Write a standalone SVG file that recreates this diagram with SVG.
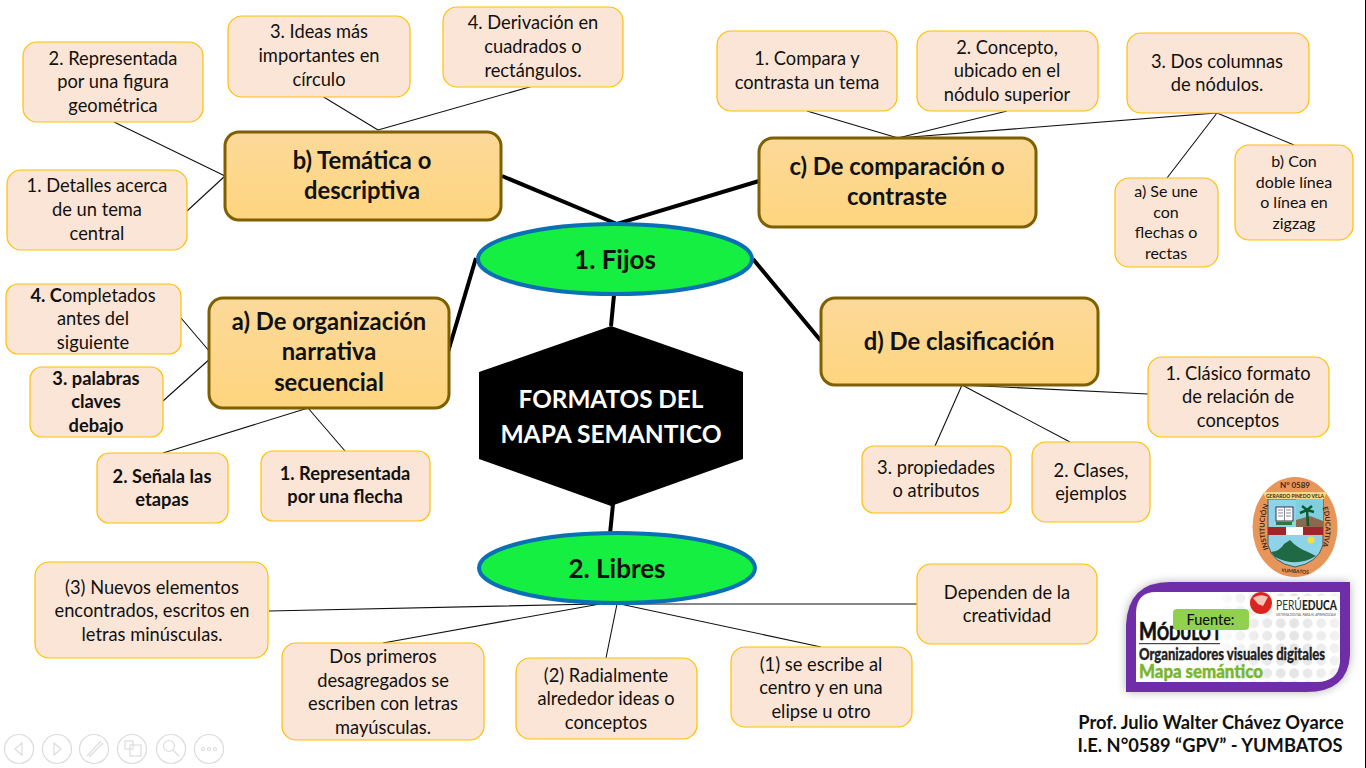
<svg xmlns="http://www.w3.org/2000/svg" width="1366" height="768" viewBox="0 0 1366 768">
<style>
text{font-family:"Lato","Liberation Sans",sans-serif;text-anchor:middle;fill:#111}
.l{fill:#fbe5d6;stroke:#ffc000;stroke-width:1.2}
.t{font-size:18.300px}
.s{font-size:16px}
.b{font-weight:700}
.m{fill:url(#g);stroke:#7f6000;stroke-width:3}
.mt{font-size:23.800px;font-weight:700}
.et{font-size:26px;font-weight:700}
.e{fill:#15ef41;stroke:#0a6fb5;stroke-width:4}
.th{stroke:#000;stroke-width:4;fill:none}
.tn{stroke:#111;stroke-width:1.1;fill:none}
.nav{fill:none;stroke:#dcdcdc;stroke-width:1.2}
.st{text-anchor:start}
.lg{font-size:7px;font-weight:700;fill:#3a2a1a}
</style>
<defs>
<linearGradient id="g" x1="0" y1="0" x2="0" y2="1"><stop offset="0" stop-color="#fbd999"/><stop offset="1" stop-color="#ffd57f"/></linearGradient>
<filter id="sh" x="-10%" y="-15%" width="120%" height="135%"><feGaussianBlur stdDeviation="5"/></filter>
<pattern id="dots" x="1139" y="592" width="13.500" height="12.500" patternUnits="userSpaceOnUse"><circle cx="6.700" cy="6.200" r="5" fill="#e4e4e4"/></pattern>
<linearGradient id="fade" x1="0" y1="0" x2="1" y2="0"><stop offset="0" stop-color="#000"/><stop offset=".25" stop-color="#999"/><stop offset=".6" stop-color="#fff"/><stop offset="1" stop-color="#777"/></linearGradient>
<mask id="dm"><rect x="1215" y="592" width="125" height="90" fill="url(#fade)"/></mask>
<clipPath id="inner"><path d="M1136 682V612Q1137 592 1156 592H1340V662Q1338 682 1316 682Z"/></clipPath>
<path id="arcL" d="M1282 567A30 44 0 0 1 1282 487"/>
<path id="arcR" d="M1308 487A30 44 0 0 1 1308 567"/>
</defs>
<rect width="1366" height="768" fill="#fff"/>
<rect id="edge" x="1365" y="0" width="1" height="768" fill="#000"/>
<g id="connectors">
<path class="th" d="M502 176L617 224L759 181M476 258L448 352M753 259L821 341M614 295L611 326M613 504L610 534"/>
<path class="tn" d="M378 130L322 96M378 130L533 86M225 176L114 122M225 176L187 211M898 138L807 111M898 138L1007 111M898 138L1217 113L1167 178M1217 113L1294 145M181 318L210 352M163 401L212 357M308 408L163 453M308 408L345 451M962 385L1148 394M962 385L935 446M962 385L1070 442M597 604L269 611M618 604L917 604M600 604L383 643M617 604L606 658M620 604L821 647"/>
</g>
<g id="n-center"><polygon points="611,326 743,372 743,459 611,506 479,459 479,372" fill="#000"/><text x="611" y="408" font-size="24.300" font-weight="700" style="fill:#fff">FORMATOS DEL</text><text x="611" y="443" font-size="24.600" font-weight="700" style="fill:#fff">MAPA SEMANTICO</text></g>
<g id="n-fijos"><ellipse class="e" cx="615" cy="259" rx="137" ry="35"/><text x="615" y="269" class="et">1. Fijos</text></g>
<g id="n-libres"><ellipse class="e" cx="617" cy="568" rx="138" ry="35"/><text x="617" y="578" class="et">2. Libres</text></g>
<g id="n-b"><rect class="m" x="225" y="132" width="276" height="88" rx="14"/><text x="362" y="169" class="mt">b) Temática o</text><text x="362" y="199" class="mt">descriptiva</text></g>
<g id="n-c"><rect class="m" x="759" y="138" width="277" height="89" rx="14"/><text x="897" y="175" class="mt">c) De comparación o</text><text x="897" y="205" class="mt">contraste</text></g>
<g id="n-a"><rect class="m" x="209" y="298" width="240" height="110" rx="14"/><text x="329" y="330" class="mt">a) De organización</text><text x="329" y="360" class="mt">narrativa</text><text x="329" y="391" class="mt">secuencial</text></g>
<g id="n-d"><rect class="m" x="821" y="298" width="277" height="87" rx="14"/><text x="959" y="350" class="mt">d) De clasificación</text></g>
<g id="b2"><rect class="l" x="23" y="42" width="180" height="80" rx="14"/><text x="113" y="65" class="t">2. Representada</text><text x="113" y="88" class="t">por una figura</text><text x="113" y="112" class="t">geométrica</text></g>
<g id="b3"><rect class="l" x="228" y="16" width="182" height="81" rx="14"/><text x="319" y="38" class="t">3. Ideas más</text><text x="319" y="62" class="t">importantes en</text><text x="319" y="86" class="t">círculo</text></g>
<g id="b4"><rect class="l" x="443" y="7" width="180" height="80" rx="14"/><text x="533" y="29" class="t">4. Derivación en</text><text x="533" y="53" class="t">cuadrados o</text><text x="533" y="77" class="t">rectángulos.</text></g>
<g id="b1"><rect class="l" x="7" y="170" width="180" height="80" rx="14"/><text x="97" y="192" class="t">1. Detalles acerca</text><text x="97" y="216" class="t">de un tema</text><text x="97" y="240" class="t">central</text></g>
<g id="c1"><rect class="l" x="717" y="31" width="180" height="80" rx="14"/><text x="807" y="65" class="t">1. Compara y</text><text x="807" y="89" class="t">contrasta un tema</text></g>
<g id="c2"><rect class="l" x="917" y="31" width="181" height="80" rx="14"/><text x="1007" y="54" class="t">2. Concepto,</text><text x="1007" y="77" class="t">ubicado en el</text><text x="1007" y="101" class="t">nódulo superior</text></g>
<g id="c3"><rect class="l" x="1127" y="33" width="182" height="80" rx="14"/><text x="1217" y="68" class="t">3. Dos columnas</text><text x="1217" y="91" class="t">de nódulos.</text></g>
<g id="c3a"><rect class="l" x="1115" y="178" width="103" height="89" rx="14"/><text x="1166" y="197" class="s">a) Se une</text><text x="1166" y="218" class="s">con</text><text x="1166" y="238" class="s">flechas o</text><text x="1166" y="259" class="s">rectas</text></g>
<g id="c3b"><rect class="l" x="1235" y="145" width="118" height="95" rx="14"/><text x="1294" y="167" class="s">b) Con</text><text x="1294" y="188" class="s">doble línea</text><text x="1294" y="208" class="s">o línea en</text><text x="1294" y="229" class="s">zigzag</text></g>
<g id="a4"><rect class="l" x="6" y="284" width="175" height="70" rx="12"/><text x="93" y="302" class="t"><tspan class="b">4. C</tspan>ompletados</text><text x="93" y="325" class="t">antes del</text><text x="93" y="349" class="t">siguiente</text></g>
<g id="a3"><rect class="l" x="30" y="367" width="133" height="70" rx="12"/><text x="96" y="385" class="t b">3. palabras</text><text x="96" y="408" class="t b">claves</text><text x="96" y="432" class="t b">debajo</text></g>
<g id="a2"><rect class="l" x="97" y="453" width="131" height="70" rx="12"/><text x="162" y="483" class="t b">2. Señala las</text><text x="162" y="506" class="t b">etapas</text></g>
<g id="a1"><rect class="l" x="261" y="451" width="169" height="70" rx="12"/><text x="345" y="480" class="t b">1. Representada</text><text x="345" y="503" class="t b">por una flecha</text></g>
<g id="d1"><rect class="l" x="1148" y="357" width="181" height="80" rx="14"/><text x="1238" y="380" class="t">1. Clásico formato</text><text x="1238" y="403" class="t">de relación de</text><text x="1238" y="427" class="t">conceptos</text></g>
<g id="d2"><rect class="l" x="1032" y="442" width="118" height="80" rx="14"/><text x="1091" y="477" class="t">2. Clases,</text><text x="1091" y="500" class="t">ejemplos</text></g>
<g id="d3"><rect class="l" x="862" y="446" width="149" height="67" rx="12"/><text x="936" y="474" class="t">3. propiedades</text><text x="936" y="497" class="t">o atributos</text></g>
<g id="l3"><rect class="l" x="35" y="562" width="233" height="96" rx="14"/><text x="152" y="594" class="t">(3) Nuevos elementos</text><text x="152" y="617" class="t">encontrados, escritos en</text><text x="152" y="641" class="t">letras minúsculas.</text></g>
<g id="l0"><rect class="l" x="282" y="643" width="202" height="97" rx="14"/><text x="383" y="663" class="t">Dos primeros</text><text x="383" y="687" class="t">desagregados se</text><text x="383" y="710" class="t">escriben con letras</text><text x="383" y="734" class="t">mayúsculas.</text></g>
<g id="l2"><rect class="l" x="516" y="658" width="181" height="81" rx="14"/><text x="606" y="682" class="t">(2) Radialmente</text><text x="606" y="705" class="t">alrededor ideas o</text><text x="606" y="729" class="t">conceptos</text></g>
<g id="l1"><rect class="l" x="731" y="647" width="181" height="80" rx="14"/><text x="821" y="671" class="t">(1) se escribe al</text><text x="821" y="694" class="t">centro y en una</text><text x="821" y="718" class="t">elipse u otro</text></g>
<g id="l4"><rect class="l" x="917" y="564" width="180" height="80" rx="14"/><text x="1007" y="599" class="t">Dependen de la</text><text x="1007" y="622" class="t">creatividad</text></g>
<g id="logo">
<ellipse cx="1295" cy="527" rx="42.500" ry="50" fill="#e8955a"/>
<path d="M1268 499H1323V545Q1318 563 1295 567Q1272 563 1268 545Z" fill="#8fd3e8" stroke="#3b3b3b" stroke-width=".8"/>
<path d="M1296 499H1323V527H1296Z" fill="#7fcfe0"/>
<path d="M1263 492H1327L1324 499H1266Z" fill="#f3d98a"/>
<path d="M1296 527V520L1310 516L1323 521V527Z" fill="#8a6a4f"/>
<rect x="1276" y="507" width="17" height="14" fill="#fff" stroke="#2b3a55" stroke-width="1"/><path d="M1284.500 507V521M1278 510H1283M1278 513H1283M1278 516H1283M1286 510H1291M1286 513H1291M1286 516H1291" stroke="#556" stroke-width=".7"/>
<rect x="1276" y="522" width="16" height="3" fill="#2b7a3d"/>
<path d="M1308 526L1307 510M1307 510L1300 513M1307 510L1314 512M1307 510L1302 506M1307 510L1312 506" stroke="#0f5a2a" stroke-width="2.500" fill="none"/>
<rect x="1268" y="527" width="55" height="8" fill="#a5242a"/><rect x="1286" y="527" width="17" height="8" fill="#fff"/>
<circle cx="1311" cy="540" r="3.500" fill="#f2e23c"/>
<path d="M1271 552Q1280 551 1284 544L1290 540Q1297 548 1308 552L1316 556Q1296 568 1275 557Z" fill="#1f6a44"/>
<text x="1295" y="488" class="lg" style="font-size:8px">N° 0589</text>
<text x="1295" y="497.500" class="lg" style="font-size:5px">GERARDO PINEDO VELA</text>
<text x="1295" y="573" class="lg" style="font-size:5px" transform="rotate(4 1295 573)">YUMBATOS</text>
<text class="lg"><textPath href="#arcL" startOffset="50%">INSTITUCIÓN</textPath></text>
<text class="lg"><textPath href="#arcR" startOffset="50%">EDUCATIVA</textPath></text>
</g>
<g id="modulo">
<path d="M1126 692V625Q1128 582 1170 582H1350V655Q1348 692 1306 692Z" fill="#000" opacity=".3" filter="url(#sh)"/>
<path d="M1126 692V625Q1128 582 1170 582H1350V655Q1348 692 1306 692Z" fill="#6f2da8"/>
<path d="M1136 682V612Q1137 592 1156 592H1340V662Q1338 682 1316 682Z" fill="#fff"/>
<g clip-path="url(#inner)"><rect x="1215" y="592" width="125" height="90" fill="url(#dots)" mask="url(#dm)"/></g>
<rect x="1272" y="596" width="66" height="22" fill="#fff"/>
<circle cx="1261" cy="603" r="11" fill="#d8261f"/><path d="M1253 598Q1260 593 1268 597L1263 606L1258 604Z" fill="#f7c4b8"/>
<text x="1276" y="610" font-size="13" style="text-anchor:start;fill:#333" textLength="61" lengthAdjust="spacingAndGlyphs">PERÚ<tspan font-weight="900" style="fill:#222">EDUCA</tspan></text>
<text x="1306" y="616" font-size="3.500" style="fill:#555" textLength="60" lengthAdjust="spacingAndGlyphs">SISTEMA DIGITAL PARA EL APRENDIZAJE</text>
<text x="1139" y="640" font-weight="900" class="st" stroke="#111" stroke-width=".5" textLength="80" lengthAdjust="spacingAndGlyphs"><tspan font-size="24">M</tspan><tspan font-size="19">ÓDULO I</tspan></text>
<rect x="1139" y="643" width="81" height="1.200" fill="#444"/>
<text x="1139" y="660" font-size="16.500" font-weight="900" class="st" stroke="#222" stroke-width=".3" style="fill:#222" textLength="186" lengthAdjust="spacingAndGlyphs">Organizadores visuales digitales</text>
<text x="1139" y="678" font-size="19.500" font-weight="900" class="st" stroke="#7ab52f" stroke-width=".4" style="fill:#7ab52f" textLength="124" lengthAdjust="spacingAndGlyphs">Mapa semántico</text>
</g>
<g id="fuente"><rect x="1173" y="609" width="76" height="21" rx="4" fill="#92d050"/><text x="1210.500" y="625" font-size="14.500" font-weight="500">Fuente:</text></g>
<g id="autor"><text x="1211" y="729" font-size="18.300" font-weight="700">Prof. Julio Walter Chávez Oyarce</text><text x="1210" y="752" font-size="18.300" font-weight="700">I.E. N°0589 “GPV” - YUMBATOS</text></g>
<g id="nav">
<circle class="nav" cx="19" cy="749" r="14.500"/><path class="nav" d="M22 743L15 749L22 755Z"/>
<circle class="nav" cx="57" cy="749" r="14.500"/><path class="nav" d="M54 743L61 749L54 755Z"/>
<circle class="nav" cx="94" cy="749" r="14.500"/><path class="nav" d="M87 756L101 741M89 757L103 743"/>
<circle class="nav" cx="132" cy="749" r="14.500"/><rect class="nav" x="125" y="741" width="8" height="8"/><rect class="nav" x="130" y="745" width="11" height="11"/>
<circle class="nav" cx="171" cy="749" r="14.500"/><circle class="nav" cx="169" cy="746" r="5.500"/><path class="nav" d="M173 750L179 756"/>
<circle class="nav" cx="209" cy="749" r="14.500"/><circle class="nav" cx="203" cy="749" r="1.500"/><circle class="nav" cx="209" cy="749" r="1.500"/><circle class="nav" cx="215" cy="749" r="1.500"/>
</g>
</svg>
